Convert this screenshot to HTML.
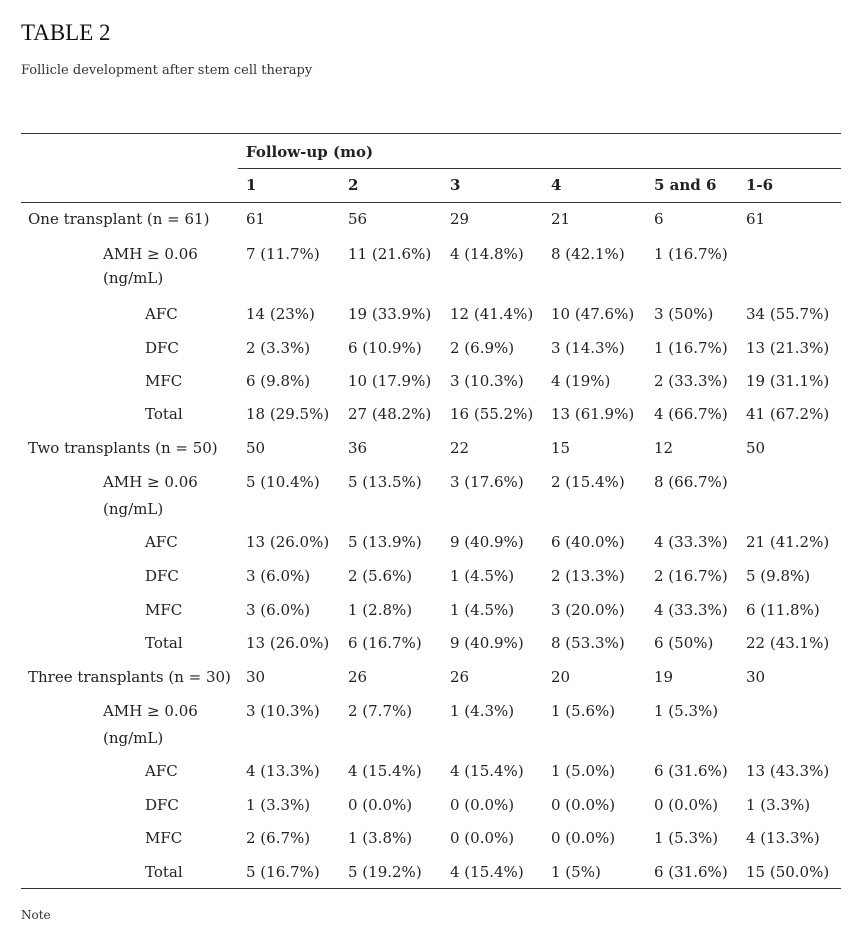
<!DOCTYPE html>
<html><head><meta charset="utf-8"><style>
body{margin:0;width:855px;height:938px;background:#fff;position:relative;font-family:"DejaVu Serif","Liberation Serif",serif;color:#222;}
.t{position:absolute;font-size:15px;line-height:20px;white-space:nowrap;}
.b{font-weight:bold;}
.l{position:absolute;height:1px;background:#333;}
</style></head><body>
<div style="position:absolute;left:21px;top:20px;font-family:'Liberation Serif',serif;font-size:23px;color:#111">TABLE 2</div>
<div style="position:absolute;left:21px;top:63px;font-size:13px;color:#333">Follicle development after stem cell therapy</div>
<div class="l" style="left:21px;width:820px;top:133px"></div>
<div class="l" style="left:238px;width:603px;top:168px"></div>
<div class="l" style="left:21px;width:820px;top:202px"></div>
<div class="l" style="left:21px;width:820px;top:888px"></div>
<div style="position:absolute;left:21px;top:908px;font-size:12px;color:#333">Note</div>
<div id="c"></div>
<script>
var cols=[246,348,450,551,654,746];
var rows=[
[152,0,["Follow-up (mo)"],1],
[185,0,["1","2","3","4","5 and 6","1-6"],1],
[219,28,["One transplant (n = 61)","61","56","29","21","6","61"]],
[254,103,["AMH ≥ 0.06","7 (11.7%)","11 (21.6%)","4 (14.8%)","8 (42.1%)","1 (16.7%)",""]],
[278,103,["(ng/mL)"]],
[314,145,["AFC","14 (23%)","19 (33.9%)","12 (41.4%)","10 (47.6%)","3 (50%)","34 (55.7%)"]],
[348,145,["DFC","2 (3.3%)","6 (10.9%)","2 (6.9%)","3 (14.3%)","1 (16.7%)","13 (21.3%)"]],
[381,145,["MFC","6 (9.8%)","10 (17.9%)","3 (10.3%)","4 (19%)","2 (33.3%)","19 (31.1%)"]],
[414,145,["Total","18 (29.5%)","27 (48.2%)","16 (55.2%)","13 (61.9%)","4 (66.7%)","41 (67.2%)"]],
[448,28,["Two transplants (n = 50)","50","36","22","15","12","50"]],
[482,103,["AMH ≥ 0.06","5 (10.4%)","5 (13.5%)","3 (17.6%)","2 (15.4%)","8 (66.7%)",""]],
[509,103,["(ng/mL)"]],
[542,145,["AFC","13 (26.0%)","5 (13.9%)","9 (40.9%)","6 (40.0%)","4 (33.3%)","21 (41.2%)"]],
[576,145,["DFC","3 (6.0%)","2 (5.6%)","1 (4.5%)","2 (13.3%)","2 (16.7%)","5 (9.8%)"]],
[610,145,["MFC","3 (6.0%)","1 (2.8%)","1 (4.5%)","3 (20.0%)","4 (33.3%)","6 (11.8%)"]],
[643,145,["Total","13 (26.0%)","6 (16.7%)","9 (40.9%)","8 (53.3%)","6 (50%)","22 (43.1%)"]],
[677,28,["Three transplants (n = 30)","30","26","26","20","19","30"]],
[711,103,["AMH ≥ 0.06","3 (10.3%)","2 (7.7%)","1 (4.3%)","1 (5.6%)","1 (5.3%)",""]],
[738,103,["(ng/mL)"]],
[771,145,["AFC","4 (13.3%)","4 (15.4%)","4 (15.4%)","1 (5.0%)","6 (31.6%)","13 (43.3%)"]],
[805,145,["DFC","1 (3.3%)","0 (0.0%)","0 (0.0%)","0 (0.0%)","0 (0.0%)","1 (3.3%)"]],
[838,145,["MFC","2 (6.7%)","1 (3.8%)","0 (0.0%)","0 (0.0%)","1 (5.3%)","4 (13.3%)"]],
[872,145,["Total","5 (16.7%)","5 (19.2%)","4 (15.4%)","1 (5%)","6 (31.6%)","15 (50.0%)"]]
];
var h="";
rows.forEach(function(r){
 var y=r[0]-10,cells=r[2];
 if(r[3]){cells.forEach(function(s,i){h+='<div class="t b" style="left:'+cols[i]+'px;top:'+y+'px">'+s+'</div>';});return;}
 h+='<div class="t" style="left:'+r[1]+'px;top:'+y+'px">'+cells[0]+'</div>';
 for(var i=1;i<cells.length;i++)h+='<div class="t" style="left:'+cols[i-1]+'px;top:'+y+'px">'+cells[i]+'</div>';
});
document.getElementById("c").innerHTML=h;
</script>
</body></html>
